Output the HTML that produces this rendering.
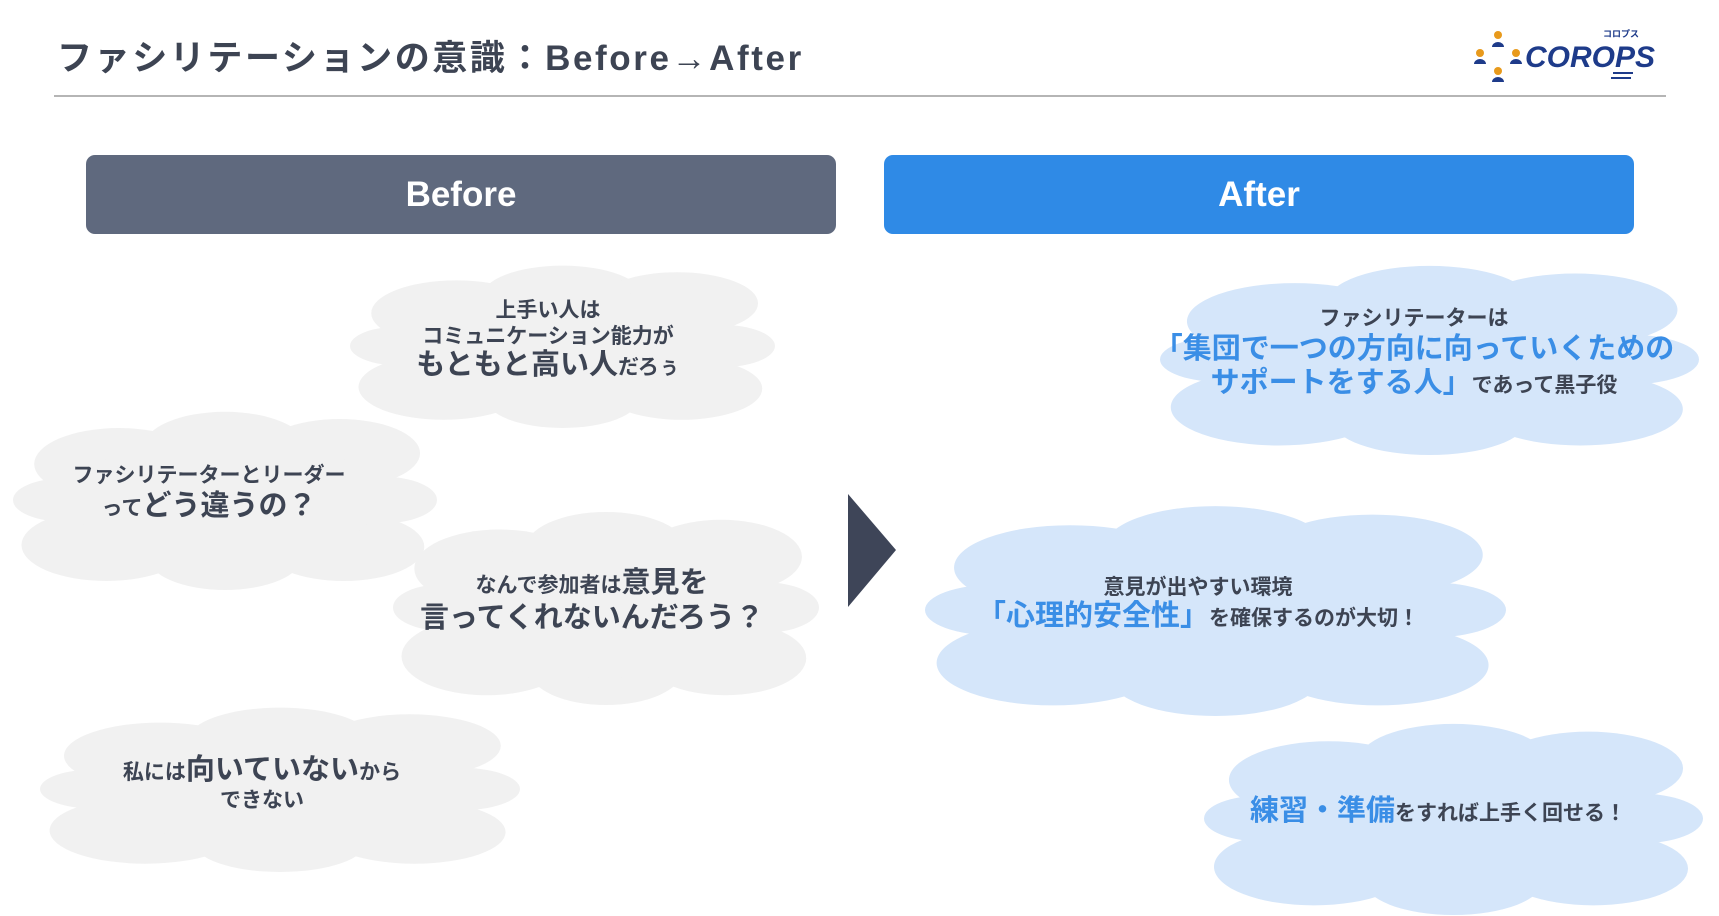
<!DOCTYPE html>
<html><head><meta charset="utf-8"><style>
body{margin:0;width:1719px;height:916px;background:#fff;overflow:hidden;position:relative;font-family:"Liberation Sans","Noto Sans CJK JP",sans-serif;color:#3d4453;font-weight:bold}
.t{position:absolute;text-align:center;white-space:nowrap;transform:translateX(-50%);line-height:1}
.b{color:#3a8ee6}
.s{font-size:21px}
</style></head><body>
<div style="position:absolute;left:57px;top:30px;font-size:35px;letter-spacing:2.6px;color:#3d4453">ファシリテーションの意識：Before→After</div>
<div style="position:absolute;left:54px;top:95px;width:1612px;height:2px;background:#b5b5b5"></div>
<svg style="position:absolute;left:1463px;top:25px" width="200" height="60">
<g fill="#e89a1c"><circle cx="35" cy="10" r="4"/><circle cx="35" cy="46" r="4"/><circle cx="17" cy="28" r="4"/><circle cx="53" cy="28" r="4"/></g>
<g fill="#1e3b8a"><path d="M29 22 a6 5 0 0 1 12 0z"/><path d="M29 57 a6 5 0 0 1 12 0z"/><path d="M11 39 a6 5 0 0 1 12 0z"/><path d="M47 39 a6 5 0 0 1 12 0z"/>
<text x="62" y="42" font-size="30" font-style="italic" font-weight="bold" font-family="Liberation Sans">COROPS</text>
<text x="140" y="12" font-size="9" font-family="Noto Sans CJK JP">コロプス</text>
<rect x="150" y="47" width="20" height="2"/><rect x="148" y="52" width="20" height="2"/></g>
</svg>
<div style="position:absolute;left:86px;top:155px;width:750px;height:79px;background:#5f697e;border-radius:9px;color:#fff;font-size:35px;text-align:center;line-height:79px">Before</div>
<div style="position:absolute;left:884px;top:155px;width:750px;height:79px;background:#2f8ae6;border-radius:9px;color:#fff;font-size:35px;text-align:center;line-height:79px">After</div>
<svg style="position:absolute;left:0;top:0" width="1719" height="916">
<defs><g id="c"><circle cx="25" cy="30" r="20"/><circle cx="50" cy="20" r="19"/><circle cx="77" cy="24" r="19"/><circle cx="87" cy="50" r="13"/><circle cx="78" cy="76" r="19"/><circle cx="50" cy="82" r="18"/><circle cx="22" cy="75" r="20"/><circle cx="12" cy="50" r="12"/><circle cx="50" cy="50" r="36"/></g></defs>
<g fill="#f1f1f1">
<use href="#c" transform="translate(350,264) scale(4.25,1.64)"/>
<use href="#c" transform="translate(13,410) scale(4.24,1.80)"/>
<use href="#c" transform="translate(393,510) scale(4.26,1.95)"/>
<use href="#c" transform="translate(40,706) scale(4.80,1.66)"/>
</g>
<g fill="#d5e6fa">
<use href="#c" transform="translate(1160,264) scale(5.39,1.91)"/>
<use href="#c" transform="translate(925,504) scale(5.81,2.12)"/>
<use href="#c" transform="translate(1204,722) scale(4.99,1.93)"/>
</g>
<polygon points="848,494 896,550 848,607" fill="#3e4558"/>
</svg>
<div class="t s" style="left:548px;top:300px">上手い人は</div>
<div class="t s" style="left:548px;top:326px">コミュニケーション能力が</div>
<div class="t" style="left:548px;top:351px;font-size:29px">もともと高い人<span class="s">だろぅ</span></div>
<div class="t s" style="left:209px;top:465px">ファシリテーターとリーダー</div>
<div class="t" style="left:209px;top:492px;font-size:29px"><span class="s">って</span>どう違うの？</div>
<div class="t" style="left:592px;top:569px;font-size:29px"><span class="s">なんで参加者は</span>意見を</div>
<div class="t" style="left:592px;top:604px;font-size:29px">言ってくれないんだろう？</div>
<div class="t" style="left:262px;top:756px;font-size:29px"><span class="s">私には</span>向いていない<span class="s">から</span></div>
<div class="t s" style="left:262px;top:790px">できない</div>
<div class="t s" style="left:1414px;top:308px">ファシリテーターは</div>
<div class="t b" style="left:1414px;top:335px;font-size:29px">「集団で一つの方向に向っていくための</div>
<div class="t" style="left:1414px;top:369px;font-size:29px"><span class="b">サポートをする人」</span><span class="s">であって黒子役</span></div>
<div class="t s" style="left:1198px;top:577px">意見が出やすい環境</div>
<div class="t" style="left:1198px;top:602px;font-size:29px"><span class="b">「心理的安全性」</span><span class="s">を確保するのが大切！</span></div>
<div class="t" style="left:1438px;top:797px;font-size:29px"><span class="b">練習・準備</span><span class="s">をすれば上手く回せる！</span></div>
</body></html>
